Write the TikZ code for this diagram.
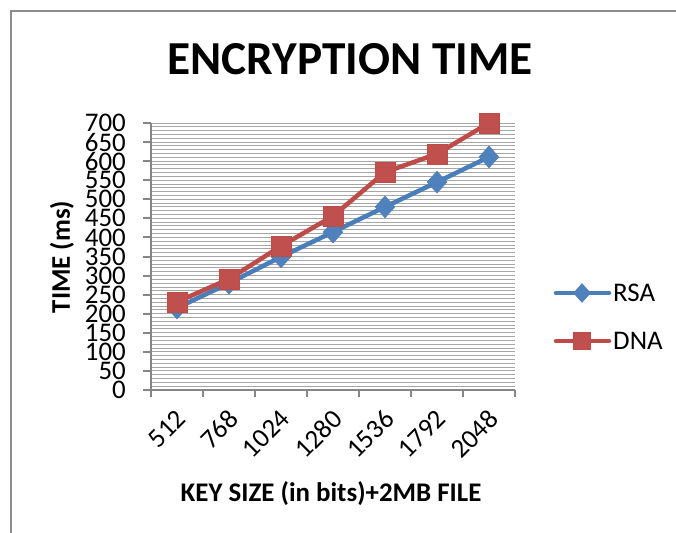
\documentclass[tikz,border=0pt]{standalone}
\usepackage{fontspec}
\setmainfont{Carlito}
\usetikzlibrary{shapes.geometric}
\definecolor{rsaline}{HTML}{4A7EBB}
\definecolor{rsafill}{HTML}{4F81BD}
\definecolor{dnaline}{HTML}{BE4B48}
\definecolor{dnafill}{HTML}{C0504D}
\definecolor{framegray}{HTML}{8C8C8C}
\definecolor{axisgray}{HTML}{868686}
\definecolor{gridgray}{HTML}{A6A6A6}
\tikzset{
  gridline/.style={draw=gridgray, line width=1bp},
  axisline/.style={draw=axisgray, line width=2bp},
  ticklab/.style={font=\fontsize{27}{27}\selectfont, inner sep=0pt},
  xlab/.style={font=\fontsize{27}{27}\selectfont, inner sep=0pt, rotate=45, anchor=north east},
  rsaser/.style={draw=rsaline, line width=4.5bp, line join=round, line cap=round},
  dnaser/.style={draw=dnaline, line width=4.5bp, line join=round, line cap=round},
  rsamark/.style={diamond, fill=rsafill, draw=rsaline, line width=0.5bp, minimum width=20bp, minimum height=22bp, inner sep=0pt},
  dnamark/.style={rectangle, fill=dnafill, draw=dnaline, line width=0.5bp, minimum size=20bp, inner sep=0pt},
  titlefont/.style={font=\fontsize{47.5}{47.5}\selectfont\bfseries, inner sep=0pt},
  axtitle/.style={font=\fontsize{27}{27}\selectfont\bfseries, inner sep=0pt},
}
\begin{document}
\begin{tikzpicture}[x=1bp,y=-1bp]
\useasboundingbox (0,0) rectangle (676,533);
\fill[white] (0,0) rectangle (676,533);
% outer frame
\draw[framegray, line width=2bp] (11,533) -- (11,11) -- (676,11);
% title
\node[titlefont, anchor=base] (title) at (350,75) {ENCRYPTION TIME};
% gridlines
\foreach \v in {10,20,...,700}
  \draw[gridline] (151,{390-\v*0.381429}) -- (515,{390-\v*0.381429});
% axes
\draw[axisline] (151,{390-700*0.381429}) -- (151,390);
\draw[axisline] (143,390) -- (515,390);
\foreach \v in {0,50,...,700} {
  \draw[axisline] (143,{390-\v*0.381429}) -- (151,{390-\v*0.381429});
  \node[ticklab, anchor=east] (yl\v) at (126,{390-\v*0.381429}) {\v};
}
\foreach \x in {151,203,255,307,359,411,463,515}
  \draw[axisline] (\x,390) -- (\x,397);
% x labels
\foreach \lab [count=\i] in {512,768,1024,1280,1536,1792,2048}
  \node[xlab] (xl\i) at ({177+52*(\i-1)-2},408) {\lab};
% axis titles
\node[axtitle, rotate=90] (ytitle) at (62,257) {TIME (ms)};
\node[axtitle] (xtitle) at (331,494) {KEY SIZE (in bits)+2MB FILE};
% data coordinates
\foreach \v [count=\i] in {215,280,349,414,480,545,611}
  \coordinate (r\i) at ({177+52*(\i-1)},{390-\v*0.381429});
\foreach \v [count=\i] in {231,291,377,456,571,619,700}
  \coordinate (d\i) at ({177+52*(\i-1)},{390-\v*0.381429});
\draw[rsaser] (r1) -- (r2) -- (r3) -- (r4) -- (r5) -- (r6) -- (r7);
\draw[dnaser] (d1) -- (d2) -- (d3) -- (d4) -- (d5) -- (d6) -- (d7);
\foreach \i in {1,...,7} \node[rsamark] (rm\i) at (r\i) {};
\foreach \i in {1,...,7} \node[dnamark] (dm\i) at (d\i) {};
% legend
\coordinate (la1) at (556,293);
\coordinate (la2) at (609,293);
\coordinate (lb1) at (556,341);
\coordinate (lb2) at (609,341);
\draw[rsaser] (la1) -- (la2);
\draw[dnaser] (lb1) -- (lb2);
\node[rsamark, minimum width=17bp, minimum height=19bp] (lrm) at (582,293) {};
\node[dnamark, minimum size=17bp] (ldm) at (582,341) {};
\node[ticklab, anchor=west] (lrsa) at (613,293) {RSA};
\node[ticklab, anchor=west] (ldna) at (613,341) {DNA};
\end{tikzpicture}
\end{document}
